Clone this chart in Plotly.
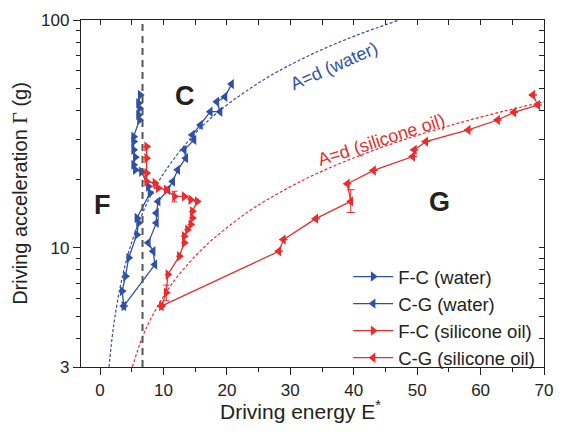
import plotly.graph_objects as go

# ---------------- data ----------------
# F-C (water): right-pointing triangles
fc_water_E = [3.75, 3.49, 4.01, 4.52, 5.81, 6.07, 5.81, 7.88, 7.61, 6.53, 5.56, 5.30, 5.56, 5.30, 5.30, 5.30, 6.22, 6.07, 6.22, 6.07, 6.33]
fc_water_G = [5.55, 6.46, 7.51, 9.04, 11.43, 12.87, 13.53, 17.40, 18.60, 21.57, 22.00, 23.14, 25.01, 26.92, 29.27, 30.77, 36.4, 38.3, 40.97, 43.09, 46.84]

# C-G (water): left-pointing triangles
cg_water_E = [20.74, 19.70, 18.42, 18.93, 17.39, 15.84, 14.56, 14.82, 13.28, 13.53, 12.25, 11.47, 10.70, 9.16, 8.89, 8.89, 7.61, 8.38, 8.65, 3.75]
cg_water_G = [52.33, 46.05, 43.78, 39.59, 39.59, 34.63, 31.31, 29.77, 26.92, 24.76, 22.00, 19.56, 17.99, 15.99, 14.23, 12.87, 10.52, 9.66, 8.45, 5.55]

# F-C (silicone oil)
fc_oil_E = [9.67, 10.44, 10.70, 12.51, 13.28, 13.28, 13.79, 14.30, 14.56, 14.56, 15.33, 14.30, 13.28, 11.74, 10.44, 9.16, 8.65, 7.35, 7.35, 7.35, 7.35]
fc_oil_G = [5.55, 6.36, 7.64, 9.19, 10.52, 11.24, 12.02, 12.65, 13.53, 14.46, 15.99, 16.27, 16.82, 16.82, 17.99, 18.31, 19.25, 19.56, 21.29, 24.76, 27.82]
fc_oil_err = [0, 0.5, 0, 0, 0, 0, 0, 0, 0, 0, 0, 0, 0, 0.9, 0, 0, 0, 0, 0, 0, 0]

# C-G (silicone oil)
cg_oil_E = [68.25, 69.02, 65.26, 62.69, 58.06, 51.36, 49.57, 49.31, 43.13, 39.01, 39.53, 34.02, 28.92, 28.20, 9.67]
cg_oil_G = [46.84, 42.35, 39.35, 36.40, 32.92, 29.27, 26.92, 25.16, 21.86, 19.11, 15.99, 13.43, 10.87, 9.66, 5.55]
cg_oil_err_plus = [0, 0, 0, 0, 0, 0, 0, 0, 0, 0, 2.0, 0, 0, 0, 0]
cg_oil_err_minus = [0, 0, 0, 0, 0, 0, 0, 0, 0, 0, 1.7, 0, 0, 0, 0]

# A=d reference curves
ad_water_G = [3, 4, 5, 7, 10, 15, 20, 30, 40, 55, 70, 85, 100]
ad_water_E = [1.42, 1.89, 2.36, 3.30, 4.72, 7.08, 9.44, 14.16, 18.88, 25.96, 33.04, 40.12, 47.2]
ad_oil_G = [3, 4, 5, 7, 10, 12, 15, 20, 25, 30, 35, 40, 44]
ad_oil_E = [5.1, 6.6, 8.2, 11.4, 16.3, 19.6, 24.3, 32.3, 40.3, 48.2, 56.1, 64.0, 70.4]

critical_E = 6.7

x_ticks = [0, 10, 20, 30, 40, 50, 60, 70]
x_minor = [5, 15, 25, 35, 45, 55, 65]
y_ticks = [3, 10, 100]
y_minor = [4, 5, 6, 7, 8, 9, 20, 30, 40, 50, 60, 70, 80, 90]

BLUE = "#3050a8"
RED = "#ee2a2a"
FONT = "Liberation Sans, Arial, sans-serif"

fig = go.Figure()

fig.add_trace(go.Scatter(x=ad_water_E, y=ad_water_G, mode="lines", line=dict(color=BLUE, width=1.2, dash="3px,2px", shape="spline"),
                         showlegend=False, hoverinfo="skip"))
fig.add_trace(go.Scatter(x=ad_oil_E, y=ad_oil_G, mode="lines", line=dict(color=RED, width=1.2, dash="3px,2px", shape="spline"),
                         showlegend=False, hoverinfo="skip"))

fig.add_trace(go.Scatter(x=fc_water_E, y=fc_water_G, mode="lines+markers", name="F-C (water)",
                         line=dict(color=BLUE, width=1.3),
                         marker=dict(symbol="triangle-right", size=9, color=BLUE)))
fig.add_trace(go.Scatter(x=cg_water_E, y=cg_water_G, mode="lines+markers", name="C-G (water)",
                         line=dict(color=BLUE, width=1.3),
                         marker=dict(symbol="triangle-left", size=9, color=BLUE)))
fig.add_trace(go.Scatter(x=fc_oil_E, y=fc_oil_G, mode="lines+markers", name="F-C (silicone oil)",
                         line=dict(color=RED, width=1.3),
                         marker=dict(symbol="triangle-right", size=9, color=RED),
                         error_y=dict(type="data", array=fc_oil_err, color=RED, thickness=1, width=3)))
fig.add_trace(go.Scatter(x=cg_oil_E, y=cg_oil_G, mode="lines+markers", name="C-G (silicone oil)",
                         line=dict(color=RED, width=1.3),
                         marker=dict(symbol="triangle-left", size=9, color=RED),
                         error_y=dict(type="data", array=cg_oil_err_plus, arrayminus=cg_oil_err_minus,
                                      color=RED, thickness=1, width=4)))

# invisible trace for mirror axes
fig.add_trace(go.Scatter(x=[x_ticks[1]], y=[y_ticks[1]], xaxis="x2", yaxis="y2", mode="markers",
                         marker=dict(opacity=0, size=1), showlegend=False, hoverinfo="skip"))

fig.add_shape(type="line", x0=critical_E, x1=critical_E, y0=0, y1=1, xref="x", yref="paper",
              line=dict(color="#555555", width=2, dash="7px,5px"))

xr = [-3, 70]
yr = [0.47712, 2]

fig.update_layout(
    width=564, height=434,
    margin=dict(l=81, r=11, t=20, b=67),
    paper_bgcolor="white", plot_bgcolor="white",
    font=dict(family=FONT, size=17, color="#222222"),
    xaxis=dict(range=xr, tickvals=x_ticks, ticks="outside", ticklen=7, tickwidth=1.3, tickcolor="#222",
               minor=dict(tickvals=x_minor, ticks="outside", ticklen=4, tickwidth=1.3, tickcolor="#222"),
               showgrid=False, zeroline=False, showline=True, linecolor="#222", linewidth=1.3, mirror=True,
               tickfont=dict(size=17)),
    yaxis=dict(type="log", range=yr, tickvals=y_ticks, ticktext=["3", "10", "100"], ticks="outside", ticklen=7,
               tickwidth=1.3, tickcolor="#222",
               minor=dict(tickvals=y_minor, ticks="outside", ticklen=4, tickwidth=1.3, tickcolor="#222"),
               showgrid=False, zeroline=False, showline=True, linecolor="#222", linewidth=1.3, mirror=True,
               title=dict(text="Driving acceleration <span style='font-family:Liberation Serif'>\u0393</span> (g)",
                          font=dict(size=20), standoff=8),
               tickfont=dict(size=17)),
    xaxis2=dict(range=xr, overlaying="x", side="top", tickvals=x_ticks, ticks="inside", ticklen=5, tickwidth=1.3,
                tickcolor="#222", showticklabels=False, showgrid=False, zeroline=False,
                minor=dict(tickvals=x_minor, ticks="inside", ticklen=5, tickwidth=1.3, tickcolor="#222")),
    yaxis2=dict(type="log", range=yr, overlaying="y", side="right", tickvals=y_ticks, ticks="inside", ticklen=5,
                tickwidth=1.3, tickcolor="#222", showticklabels=False, showgrid=False, zeroline=False,
                minor=dict(tickvals=y_minor, ticks="inside", ticklen=5, tickwidth=1.3, tickcolor="#222")),
    legend=dict(x=0.577, y=0.314, xanchor="left", yanchor="top", bgcolor="rgba(255,255,255,0)",
                font=dict(size=18.5), itemwidth=40, tracegroupgap=0),
    showlegend=True,
)

annots = [
    dict(x=0.36, y=1.1894, text="<b>F</b>", font=dict(size=27, color="#222")),
    dict(x=13.4, y=1.666, text="<b>C</b>", font=dict(size=27, color="#222")),
    dict(x=53.46, y=1.2025, text="<b>G</b>", font=dict(size=27, color="#222")),
    dict(x=36.9, y=1.80, text="A=d (water)", textangle=-24, font=dict(size=18, color=BLUE)),
    dict(x=44.3, y=1.475, text="A=d (silicone oil)", textangle=-18, font=dict(size=18, color=RED)),
]
for a in annots:
    fig.add_annotation(xref="x", yref="y", showarrow=False, **a)

fig.add_annotation(xref="paper", yref="paper", x=0.4746, y=-0.124, xanchor="center", yanchor="middle",
                   showarrow=False, text="Driving energy E<sup>*</sup>", font=dict(size=21, color="#222"))

fig.write_html("out.html")
